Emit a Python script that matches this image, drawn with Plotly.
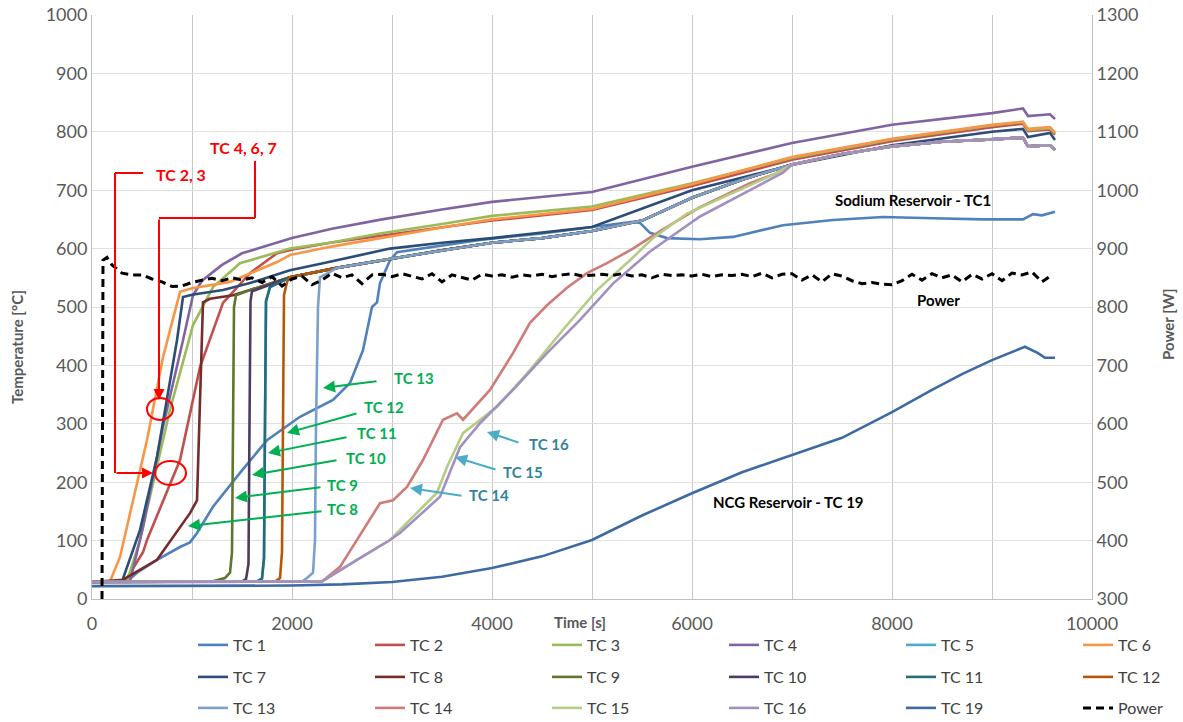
import plotly.graph_objects as go

# ---------------- data ----------------
tc1_t = [0, 350, 450, 650, 880, 980, 1050, 1210, 1480, 1750, 2080, 2410, 2580, 2710, 2800, 2850, 2880, 2980, 3050, 3500, 3880, 4500, 5010, 5410, 5480, 5580, 5750, 6080, 6410, 6910, 7410, 7910, 8410, 8910, 9310, 9410, 9500, 9630]
tc1_T = [29, 30, 45, 67, 89, 97, 113, 158, 216, 272, 312, 341, 370, 426, 500, 508, 541, 580, 594, 606, 615, 626, 637, 646, 644, 627, 618, 616, 620, 640, 649, 654, 652, 650, 650, 659, 657, 663]

tc2_t = [0, 330, 510, 550, 880, 1080, 1310, 1580, 1850, 2050, 2380, 2880, 3500, 4000, 5000, 6000, 7000, 8000, 9000, 9310, 9360, 9580, 9630]
tc2_T = [29, 30, 80, 101, 238, 397, 507, 558, 592, 600, 610, 622, 636, 648, 666, 707, 752, 784, 808, 814, 801, 804, 795]

tc3_t = [0, 350, 480, 780, 1010, 1210, 1480, 1980, 2380, 2880, 3500, 4000, 5000, 6000, 7000, 8000, 9000, 9310, 9360, 9580, 9630]
tc3_T = [29, 30, 101, 324, 469, 534, 575, 600, 610, 626, 642, 656, 672, 712, 755, 787, 811, 817, 803, 806, 798]

tc4_t = [0, 380, 510, 710, 910, 1010, 1100, 1300, 1500, 2000, 2400, 2900, 3500, 4000, 5000, 6000, 7000, 8000, 9000, 9310, 9360, 9580, 9630]
tc4_T = [29, 30, 123, 295, 443, 520, 545, 572, 592, 618, 634, 650, 667, 680, 697, 740, 781, 812, 832, 840, 827, 830, 822]

tc6_t = [0, 180, 280, 550, 710, 880, 1000, 1380, 1850, 1980, 2380, 2880, 3500, 4000, 5000, 6000, 7000, 8000, 9000, 9310, 9360, 9580, 9630]
tc6_T = [29, 30, 72, 272, 414, 526, 532, 543, 577, 589, 603, 618, 636, 650, 668, 710, 757, 788, 812, 817, 805, 808, 798]

tc7_t = [0, 300, 480, 650, 850, 910, 1000, 1310, 1580, 1980, 2310, 2980, 3500, 4000, 5000, 6000, 7000, 8000, 9000, 9310, 9360, 9580, 9630]
tc7_T = [29, 30, 118, 243, 443, 517, 521, 529, 541, 563, 575, 600, 610, 618, 637, 700, 743, 777, 800, 805, 791, 798, 786]

# heads of the thermocouples that end up in the lower bundle
tc8_t = [0, 310, 650, 980, 1050, 1080, 1110, 1180, 1410, 1580, 1980]
tc8_T = [29, 33, 67, 147, 169, 329, 508, 514, 520, 529, 551]
tc9_t = [0, 1200, 1330, 1380, 1400, 1410, 1420, 1440, 1580, 1980]
tc9_T = [29, 30, 36, 45, 80, 300, 500, 520, 529, 551]
tc10_t = [0, 1500, 1540, 1565, 1575, 1585, 1600, 1980]
tc10_T = [29, 30, 34, 60, 300, 510, 527, 551]
tc11_t = [0, 1650, 1700, 1720, 1730, 1740, 1780, 1980]
tc11_T = [29, 30, 35, 70, 300, 510, 534, 551]
tc5_t = [0, 1650, 1700, 1720, 1730, 1740, 1780, 1980]
tc5_T = [29, 30, 35, 70, 300, 510, 534, 551]
tc12_t = [0, 1830, 1880, 1900, 1910, 1920, 1950, 1980]
tc12_T = [29, 30, 36, 80, 300, 520, 543, 551]
tc13_t = [0, 2100, 2150, 2210, 2230, 2240, 2260, 2280, 2380]
tc13_T = [29, 30, 36, 45, 100, 300, 500, 551, 560]

bundle_t = [2450, 3000, 3500, 4000, 4500, 5000, 5500, 6000, 6500, 7000, 7500, 8000, 8500, 9000, 9310, 9360, 9580, 9630]
bundle_T = [567, 583, 597, 610, 618, 630, 648, 687, 718, 744, 762, 775, 783, 787, 790, 775, 777, 769]

# late risers (merge with the bundle near 7000 s)
tc14_t = [0, 2300, 2480, 2650, 2880, 3010, 3150, 3310, 3510, 3650, 3710, 3980, 4210, 4380, 4550, 4750, 4950, 5150, 5410, 5680, 6080, 6580, 6830]
tc14_T = [29, 30, 55, 101, 164, 169, 192, 238, 307, 318, 307, 358, 421, 473, 503, 533, 558, 575, 600, 630, 671, 712, 728]
tc15_t = [0, 2300, 2650, 2980, 3310, 3450, 3550, 3710, 4050, 4380, 4710, 5050, 5380, 5610, 5950, 6580, 6830]
tc15_T = [29, 30, 67, 101, 158, 182, 226, 284, 329, 392, 461, 529, 580, 618, 660, 708, 728]
tc16_t = [0, 2300, 2650, 2980, 3080, 3480, 3680, 3880, 4210, 4550, 4880, 5210, 5580, 6080, 6580, 6910]
tc16_T = [29, 30, 67, 101, 113, 175, 260, 301, 358, 421, 478, 540, 595, 655, 700, 730]

tc19_t = [0, 1000, 2000, 2500, 3000, 3500, 4000, 4500, 5000, 5500, 6000, 6500, 7000, 7500, 8000, 8400, 8700, 9000, 9330, 9460, 9530, 9630]
tc19_T = [22, 22, 23, 25, 29, 38, 53, 73, 101, 143, 181, 217, 247, 276, 320, 358, 385, 409, 432, 421, 413, 413]

power_t = [100, 110, 150, 200, 300, 400, 500, 600, 700, 800, 900, 1000, 1100, 1200, 1300, 1400, 1500, 1600, 1700, 1800, 1900, 2000,
           2100, 2200, 2300, 2400, 2500, 2600, 2700, 2800, 2900, 3000, 3100, 3200, 3300, 3400, 3500, 3600, 3700, 3800, 3900, 4000,
           4100, 4200, 4300, 4400, 4500, 4600, 4700, 4800, 4900, 5000, 5100, 5200, 5300, 5400, 5500, 5600, 5700, 5800, 5900, 6000,
           6100, 6200, 6300, 6400, 6500, 6600, 6700, 6800, 6900, 7000, 7100, 7200, 7300, 7400, 7500, 7600, 7700, 7800, 7900, 8000,
           8100, 8200, 8300, 8400, 8500, 8600, 8700, 8800, 8900, 9000, 9100, 9200, 9300, 9400, 9500, 9600]
power_W = [300, 880, 885, 872, 858, 855, 855, 848, 843, 835, 836, 842, 846, 849, 845, 850, 846, 850, 842, 852, 836, 848,
           853, 838, 846, 858, 850, 855, 840, 855, 856, 852, 857, 853, 848, 857, 843, 855, 850, 846, 856, 853,
           855, 851, 855, 853, 856, 852, 855, 857, 853, 855, 856, 854, 857, 853, 855, 850, 856, 854, 855, 853,
           856, 852, 855, 854, 856, 852, 858, 850, 856, 857, 846, 855, 843, 857, 853, 845, 840, 842, 839, 838,
           845, 856, 846, 857, 850, 855, 843, 856, 848, 857, 845, 858, 855, 860, 843, 855]

colors = {
    "TC 1": "#4F81BD", "TC 2": "#C0504D", "TC 3": "#9BBB59", "TC 4": "#8064A2",
    "TC 5": "#4BACC6", "TC 6": "#F79646", "TC 7": "#2C4D75", "TC 8": "#772C2A",
    "TC 9": "#5F7530", "TC 10": "#4D3B62", "TC 11": "#276A7C", "TC 12": "#B65708",
    "TC 13": "#7BA0CD", "TC 14": "#D07B78", "TC 15": "#B3CE84", "TC 16": "#A38FC0",
    "TC 19": "#3D6AA2",
}

i7000 = bundle_t.index(7000)
series = [
    ("TC 1", tc1_t, tc1_T),
    ("TC 2", tc2_t, tc2_T),
    ("TC 3", tc3_t, tc3_T),
    ("TC 4", tc4_t, tc4_T),
    ("TC 5", tc5_t + bundle_t, tc5_T + bundle_T),
    ("TC 6", tc6_t, tc6_T),
    ("TC 7", tc7_t, tc7_T),
    ("TC 8", tc8_t + bundle_t, tc8_T + bundle_T),
    ("TC 9", tc9_t + bundle_t, tc9_T + bundle_T),
    ("TC 10", tc10_t + bundle_t, tc10_T + bundle_T),
    ("TC 11", tc11_t + bundle_t, tc11_T + bundle_T),
    ("TC 12", tc12_t + bundle_t, tc12_T + bundle_T),
    ("TC 13", tc13_t + bundle_t, tc13_T + bundle_T),
    ("TC 14", tc14_t + bundle_t[i7000:], tc14_T + bundle_T[i7000:]),
    ("TC 15", tc15_t + bundle_t[i7000:], tc15_T + bundle_T[i7000:]),
    ("TC 16", tc16_t + bundle_t[i7000:], tc16_T + bundle_T[i7000:]),
    ("TC 19", tc19_t, tc19_T),
]

FONT = "Lato"
fig = go.Figure()


def legname(i):
    return "legend" if i == 0 else "legend%d" % (i + 1)


for i, (name, t, T) in enumerate(series):
    fig.add_trace(go.Scatter(x=t, y=T, name=name, mode="lines",
                             line=dict(color=colors[name], width=2.6),
                             legend=legname(i)))
fig.add_trace(go.Scatter(x=power_t, y=power_W, name="Power", mode="lines", yaxis="y2",
                         line=dict(color="black", width=3, dash="8px,5px"),
                         legend=legname(17)))

# ---------------- annotations (positions in page pixels of the reference) ----------------
def px2x(px):
    return (px - 92) * 10.0


def py2y(py):
    return (599 - py) / 0.584


ann = []
green = "#00B050"
for txt, tip, tail, pos in [
    ("TC 13", (323, 388), (378, 381), (414, 378)),
    ("TC 12", (287, 433), (358, 413), (384, 407)),
    ("TC 11", (268, 453), (348, 437), (377, 433)),
    ("TC 10", (252, 475), (338, 460), (366, 458)),
    ("TC 9", (235, 498), (322, 487), (342, 485)),
    ("TC 8", (188, 526), (323, 511), (342, 509)),
]:
    ann.append(dict(x=px2x(tip[0]), y=py2y(tip[1]), ax=px2x(tail[0]), ay=py2y(tail[1]),
                    axref="x", ayref="y", xref="x", yref="y", text="", showarrow=True,
                    arrowhead=2, arrowsize=1.2, arrowwidth=2, arrowcolor=green))
    ann.append(dict(x=px2x(pos[0]), y=py2y(pos[1]), xref="x", yref="y", text="<b>%s</b>" % txt,
                    showarrow=False, font=dict(family=FONT, size=15, color=green)))

teal_a = "#4BACC6"
teal_t = "#31849B"
for txt, tip, tail, pos in [
    ("TC 14", (410, 488), (463, 496), (489, 495)),
    ("TC 15", (455, 457), (497, 470), (523, 472)),
    ("TC 16", (487, 432), (520, 443), (549, 444)),
]:
    ann.append(dict(x=px2x(tip[0]), y=py2y(tip[1]), ax=px2x(tail[0]), ay=py2y(tail[1]),
                    axref="x", ayref="y", xref="x", yref="y", text="", showarrow=True,
                    arrowhead=2, arrowsize=1.2, arrowwidth=2, arrowcolor=teal_a))
    ann.append(dict(x=px2x(pos[0]), y=py2y(pos[1]), xref="x", yref="y", text="<b>%s</b>" % txt,
                    showarrow=False, font=dict(family=FONT, size=15, color=teal_t)))

red = "#FF0000"
ann.append(dict(x=px2x(181), y=py2y(174), xref="x", yref="y", text="<b>TC 2, 3</b>", showarrow=False,
                font=dict(family=FONT, size=16, color=red)))
ann.append(dict(x=px2x(243), y=py2y(147), xref="x", yref="y", text="<b>TC 4, 6, 7</b>", showarrow=False,
                font=dict(family=FONT, size=16, color=red)))
ann.append(dict(x=px2x(153), y=py2y(473), ax=px2x(115), ay=py2y(473), axref="x", ayref="y",
                xref="x", yref="y", text="", showarrow=True, arrowhead=2, arrowsize=1.1,
                arrowwidth=2, arrowcolor=red))
ann.append(dict(x=px2x(159), y=py2y(400), ax=px2x(159), ay=py2y(218), axref="x", ayref="y",
                xref="x", yref="y", text="", showarrow=True, arrowhead=2, arrowsize=1.1,
                arrowwidth=2, arrowcolor=red))

for txt, pos in [("Sodium Reservoir - TC1", (913, 200)), ("Power", (938, 300)),
                 ("NCG Reservoir - TC 19", (788, 502))]:
    ann.append(dict(x=px2x(pos[0]), y=py2y(pos[1]), xref="x", yref="y", text="<b>%s</b>" % txt,
                    showarrow=False, font=dict(family=FONT, size=15, color="black")))

grey = "#595959"
ann.append(dict(x=(17 - 92) / 1000, y=(599 - 347) / 584, xref="paper", yref="paper",
                xanchor="center", yanchor="middle",
                text="<b>Temperature [°C]</b>", textangle=-90, showarrow=False,
                font=dict(family=FONT, size=15, color=grey)))
ann.append(dict(x=(1168 - 92) / 1000, y=(599 - 325) / 584, xref="paper", yref="paper",
                xanchor="center", yanchor="middle",
                text="<b>Power [W]</b>", textangle=-90, showarrow=False,
                font=dict(family=FONT, size=15, color=grey)))
ann.append(dict(x=(580 - 92) / 1000, y=(599 - 622) / 584, xref="paper", yref="paper",
                xanchor="center", yanchor="middle",
                text="<b>Time [s]</b>", showarrow=False,
                font=dict(family=FONT, size=15, color=grey)))

shapes = [
    dict(type="line", xref="x", yref="y", x0=px2x(143), y0=py2y(173), x1=px2x(115), y1=py2y(173),
         line=dict(color=red, width=2)),
    dict(type="line", xref="x", yref="y", x0=px2x(115), y0=py2y(173), x1=px2x(115), y1=py2y(473),
         line=dict(color=red, width=2)),
    dict(type="line", xref="x", yref="y", x0=px2x(255), y0=py2y(161), x1=px2x(255), y1=py2y(218),
         line=dict(color=red, width=2)),
    dict(type="line", xref="x", yref="y", x0=px2x(255), y0=py2y(218), x1=px2x(159), y1=py2y(218),
         line=dict(color=red, width=2)),
    dict(type="circle", xref="x", yref="y", x0=px2x(155), x1=px2x(186), y0=py2y(485), y1=py2y(461),
         line=dict(color=red, width=2)),
    dict(type="circle", xref="x", yref="y", x0=px2x(147), x1=px2x(173), y0=py2y(420), y1=py2y(398),
         line=dict(color=red, width=2)),
]

# one legend per entry, laid out in a 6 x 3 grid under the plot
row_py = [645, 677, 708]
legend_layout = {}
for i in range(18):
    col, row = i % 6, i // 6
    px = 193 + 177 * col
    legend_layout[legname(i)] = dict(
        orientation="h", xanchor="left", yanchor="middle",
        x=(px - 92) / 1000, y=(599 - row_py[row]) / 584,
        font=dict(family=FONT, size=16, color="#404040"),
        bgcolor="rgba(0,0,0,0)", itemwidth=30)

# plot area at x 92..1092, y 15..599 of the 1183x722 page (body margin removed below)
axis_common = dict(showline=True, linecolor="#BFBFBF", zeroline=False, ticks="", automargin=False,
                   ticklabeloverflow="allow", tickfont=dict(family=FONT, size=18, color=grey))
fig.update_layout(
    width=1183, height=722,
    margin=dict(l=92, r=91, t=15, b=123, autoexpand=False),
    paper_bgcolor="white", plot_bgcolor="white",
    font=dict(family=FONT, color=grey),
    showlegend=True,
    xaxis=dict(axis_common, range=[0, 10000], dtick=2000, tick0=0, tickformat="d", showgrid=True,
               ticklabelstandoff=8,
               gridcolor="#C8C8C8", minor=dict(dtick=1000, showgrid=True, gridcolor="#C8C8C8")),
    yaxis=dict(axis_common, range=[0, 1000], dtick=100, showgrid=True, gridcolor="#E0E0E0"),
    yaxis2=dict(axis_common, range=[300, 1300], dtick=100, overlaying="y", side="right", showgrid=False),
    annotations=ann,
    shapes=shapes,
    **legend_layout,
)

fig.write_html("out.html",
               config={"displayModeBar": False},
               post_script="document.body.style.margin='0';document.body.style.overflow='hidden';")
